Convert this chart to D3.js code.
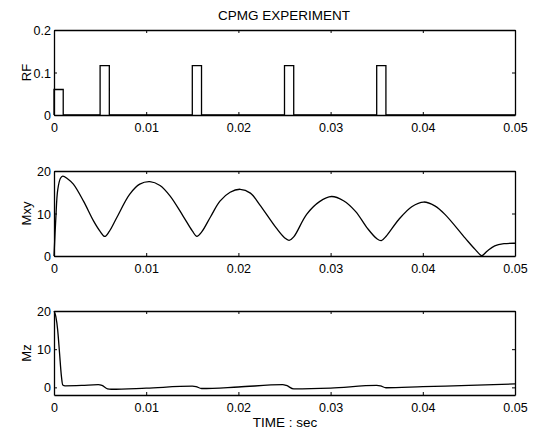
<!DOCTYPE html>
<html>
<head>
<meta charset="utf-8">
<script src="https://cdn.jsdelivr.net/npm/d3@7"></script>
<style>
  body { margin: 0; background: #fff; }
  svg { display: block; }
</style>
</head>
<body>
<div id="chart"></div>
<script>
// RF pulses (90 then 180 refocusing pulses)
var pulseStart = [0, 0.005, 0.015, 0.025, 0.035];
var pulseEnd = [0.001, 0.006, 0.016, 0.026, 0.036];
var pulseAmp = [0.06, 0.116, 0.116, 0.116, 0.116];

// transverse magnetization
var mxyTime = [0, 0.0002, 0.0004, 0.0007, 0.00095, 0.0015, 0.0021, 0.0032, 0.0043, 0.005, 0.0055, 0.006,
  0.0068, 0.0082, 0.0093, 0.0104, 0.0115, 0.0126, 0.014, 0.015, 0.0155, 0.016, 0.017, 0.018, 0.0191,
  0.0202, 0.0213, 0.0223, 0.0241, 0.025, 0.0255, 0.026, 0.0274, 0.0288, 0.0301, 0.0314, 0.0327, 0.034,
  0.035, 0.0355, 0.036, 0.0374, 0.0388, 0.0401, 0.0413, 0.0424, 0.0446, 0.0457, 0.0464, 0.047, 0.0478,
  0.0488, 0.05];
var mxyValue = [0, 9, 15.5, 18.3, 18.8, 18.1, 16.9, 12.9, 8.2, 5.8, 4.6, 5.8,
  9.0, 14.5, 16.9, 17.5, 16.6, 14.1, 9.4, 5.9, 4.6, 5.6, 9.3, 12.9, 15.0,
  15.7, 14.8, 12.1, 6.6, 4.3, 3.7, 4.5, 9.8, 12.8, 14.0, 13.0, 10.5, 6.5,
  4.1, 3.6, 4.6, 8.6, 11.6, 12.7, 11.8, 9.8, 4.2, 1.5, 0.1, 1.2, 2.4,
  2.9, 3.0];

// longitudinal magnetization
var mzTime = [0, 0.0002, 0.0004, 0.0006, 0.0008, 0.00095, 0.0012, 0.003, 0.0048, 0.0052, 0.0058, 0.0062,
  0.01, 0.015, 0.0154, 0.016, 0.02, 0.0248, 0.0252, 0.026, 0.03, 0.035, 0.0354, 0.036, 0.04, 0.045, 0.05];
var mzValue = [20, 18.5, 15, 9, 3, 0.6, 0.4, 0.5, 0.7, 0.5, -0.4, -0.5,
  -0.2, 0.3, 0.2, -0.3, 0.1, 0.7, 0.5, -0.4, -0.2, 0.5, 0.4, -0.1, 0.2, 0.5, 0.9];

var xTicks = [0, 0.01, 0.02, 0.03, 0.04, 0.05];
var xTickLabels = ["0", "0.01", "0.02", "0.03", "0.04", "0.05"];

var w = 535, h = 431;
var left = 54, right = 515;

var svg = d3.select("#chart").append("svg")
  .attr("width", w)
  .attr("height", h)
  .style("font-family", "'Liberation Sans', Arial, Helvetica, sans-serif");

var xScale = d3.scaleLinear().domain([0, 0.05]).range([left, right]);

// build a panel with box, inward ticks, labels; returns y scale
function panel(top, bottom, yDomain, yTicks, yTickLabels, yTitle) {
  var yScale = d3.scaleLinear().domain(yDomain).range([bottom, top]);
  var g = svg.append("g");

  var xAxis = d3.axisBottom(xScale).tickValues(xTicks)
    .tickFormat(function(d, i) { return xTickLabels[i]; })
    .tickSize(-3).tickSizeOuter(0).tickPadding(8);
  var gx = g.append("g").attr("transform", "translate(0," + bottom + ")").call(xAxis);

  var xTop = d3.axisTop(xScale).tickValues(xTicks).tickFormat("").tickSize(-3).tickSizeOuter(0);
  var gxt = g.append("g").attr("transform", "translate(0," + top + ")").call(xTop);

  var yAxis = d3.axisLeft(yScale).tickValues(yTicks)
    .tickFormat(function(d, i) { return yTickLabels[i]; })
    .tickSize(-3).tickSizeOuter(0).tickPadding(3);
  var gy = g.append("g").attr("transform", "translate(" + left + ",0)").call(yAxis);

  var yRight = d3.axisRight(yScale).tickValues(yTicks).tickFormat("").tickSize(-3).tickSizeOuter(0);
  var gyr = g.append("g").attr("transform", "translate(" + right + ",0)").call(yRight);

  [gx, gxt, gy, gyr].forEach(function(a) {
    a.selectAll("path").attr("stroke", "#000").attr("stroke-width", 1.3);
    a.selectAll("line").attr("stroke", "#000").attr("stroke-width", 1);
    a.selectAll("text").attr("fill", "#000").style("font-size", "12.5px");
  });
  gy.selectAll("text").attr("dy", "0.36em");

  g.append("text")
    .attr("transform", "translate(" + 26 + "," + ((top + bottom) / 2) + ") rotate(-90)")
    .attr("text-anchor", "middle")
    .attr("dy", "0.35em")
    .style("font-size", "13px")
    .text(yTitle);

  return yScale;
}

// RF panel
var yRF = panel(30, 115, [0, 0.2], [0, 0.1, 0.2], ["0", "0.1", "0.2"], "RF");
var rfPoints = [];
pulseStart.forEach(function(s, i) {
  rfPoints.push([s, 0], [s, pulseAmp[i]], [pulseEnd[i], pulseAmp[i]], [pulseEnd[i], 0]);
});
rfPoints.push([0.05, 0]);
svg.append("path")
  .datum(rfPoints)
  .attr("fill", "none")
  .attr("stroke", "#000")
  .attr("stroke-width", 1.3)
  .attr("d", d3.line()
    .x(function(d) { return xScale(d[0]); })
    .y(function(d) { return yRF(d[1]); }));

// Mxy panel
var yMxy = panel(171, 256, [0, 20], [0, 10, 20], ["0", "10", "20"], "Mxy");
svg.append("path")
  .datum(d3.zip(mxyTime, mxyValue))
  .attr("fill", "none")
  .attr("stroke", "#000")
  .attr("stroke-width", 1.3)
  .attr("d", d3.line()
    .curve(d3.curveCatmullRom.alpha(0.5))
    .x(function(d) { return xScale(d[0]); })
    .y(function(d) { return yMxy(d[1]); }));

// Mz panel
var yMz = panel(311, 395, [-2, 20], [0, 10, 20], ["0", "10", "20"], "Mz");
svg.append("path")
  .datum(d3.zip(mzTime, mzValue))
  .attr("fill", "none")
  .attr("stroke", "#000")
  .attr("stroke-width", 1.3)
  .attr("d", d3.line()
    .curve(d3.curveMonotoneX)
    .x(function(d) { return xScale(d[0]); })
    .y(function(d) { return yMz(d[1]); }));

// title and x label
svg.append("text")
  .attr("x", 284)
  .attr("y", 20)
  .attr("text-anchor", "middle")
  .style("font-size", "13.5px")
  .text("CPMG EXPERIMENT");

svg.append("text")
  .attr("x", 285)
  .attr("y", 427)
  .attr("text-anchor", "middle")
  .style("font-size", "13.5px")
  .text("TIME : sec");
</script>
</body>
</html>
